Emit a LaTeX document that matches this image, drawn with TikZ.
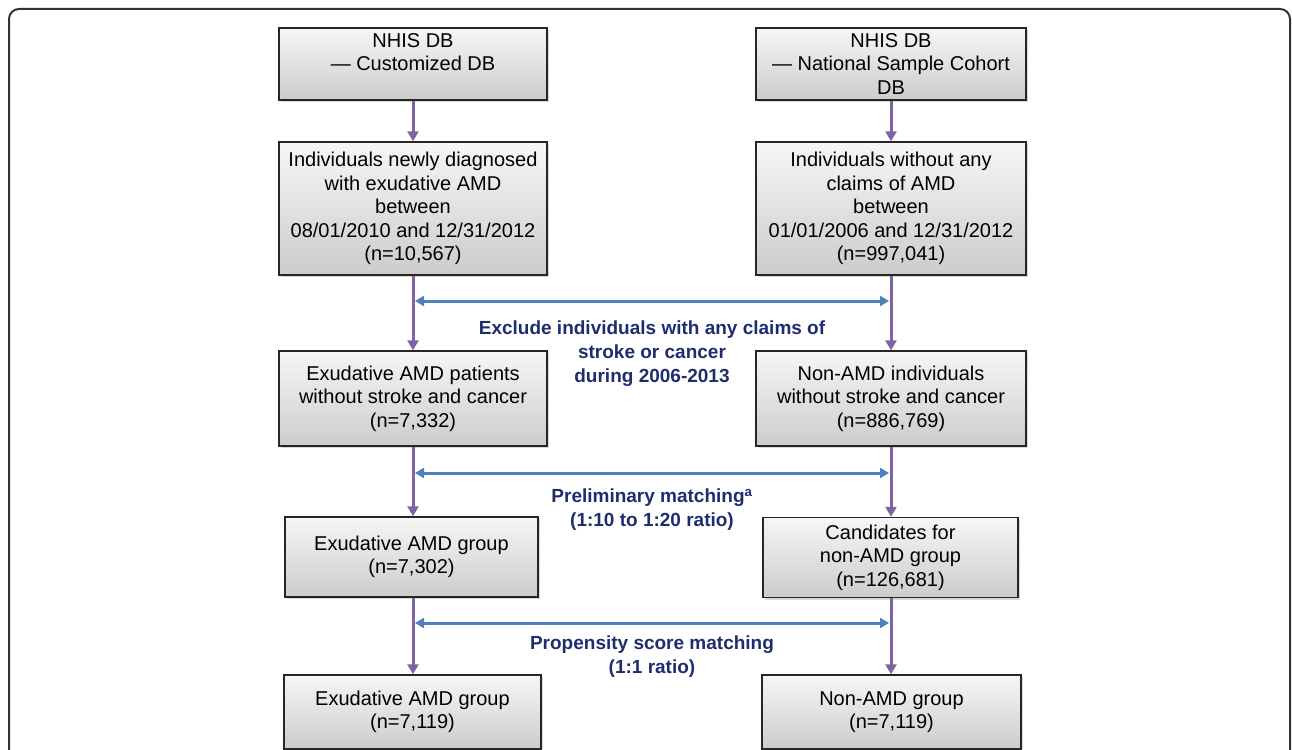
\documentclass[tikz,border=0pt]{standalone}
\usepackage{fontspec}
\setmainfont{Liberation Sans}
\usetikzlibrary{arrows.meta,shadows}

\definecolor{flowpurple}{RGB}{128,100,162}
\definecolor{flowblue}{RGB}{79,129,189}
\definecolor{labelnavy}{RGB}{31,45,110}

\begin{document}
\begin{tikzpicture}[x=1pt,y=-1pt,
  box/.style={draw=black!85, line width=1.4pt, top color=gray!7, bottom color=gray!40,
    drop shadow={opacity=0.3,shadow xshift=2pt,shadow yshift=-2pt},
    align=center, inner sep=0pt, font=\fontsize{20}{23.5}\selectfont},
  flow/.style={draw=flowpurple, line width=3pt, -{Triangle[length=10pt,width=11pt]}},
  match/.style={draw=flowblue, line width=3pt, {Triangle[length=9pt,width=10pt]}-{Triangle[length=9pt,width=10pt]}},
  note/.style={text=labelnavy, align=center, font=\fontsize{19}{24}\selectfont\bfseries}]
\useasboundingbox (0,0) rectangle (1292,749);
% outer frame
\draw [black!80, line width=2pt, rounded corners=10pt] (9,760) -- (9,9) -- (1290,9) -- (1290,760);
% left column
\node [box, minimum width=268pt, minimum height=72pt] (db1) at (413,64) {NHIS DB\\ --- Customized DB\\ ~};
\node [box, minimum width=268pt, minimum height=133pt] (amd1) at (413,208.5) {Individuals newly diagnosed\\with exudative AMD\\between\\08/01/2010 and 12/31/2012\\(n=10,567)};
\node [box, minimum width=268pt, minimum height=95pt] (amd2) at (413,398.5) {Exudative AMD patients\\without stroke and cancer\\(n=7,332)};
\node [box, minimum width=253pt, minimum height=80pt] (amd3) at (411.5,557) {Exudative AMD group\\(n=7,302)};
\node [box, minimum width=257pt, minimum height=74pt] (amd4) at (412.5,712) {Exudative AMD group\\(n=7,119)};
% right column
\node [box, minimum width=270pt, minimum height=72pt] (db2) at (891,64) {NHIS DB\\ --- National Sample Cohort\\DB};
\node [box, minimum width=270pt, minimum height=133pt] (non1) at (891,208.5) {Individuals without any\\claims of AMD\\between\\01/01/2006 and 12/31/2012\\(n=997,041)};
\node [box, minimum width=270pt, minimum height=95pt] (non2) at (891,398.5) {Non-AMD individuals\\without stroke and cancer\\(n=886,769)};
\node [box, minimum width=255pt, minimum height=80pt] (non3) at (890.5,557.5) {Candidates for\\non-AMD group\\(n=126,681)};
\node [box, minimum width=259pt, minimum height=74pt] (non4) at (891.5,712) {Non-AMD group\\(n=7,119)};
% vertical arrows
\draw [flow] (db1.south -| 413,0) -- (amd1.north -| 413,0);
\draw [flow] (amd1.south -| 413,0) -- (amd2.north -| 413,0);
\draw [flow] (amd2.south -| 413,0) -- (amd3.north -| 413,0);
\draw [flow] (amd3.south -| 413,0) -- (amd4.north -| 413,0);
\draw [flow] (db2.south -| 891,0) -- (non1.north -| 891,0);
\draw [flow] (non1.south -| 891,0) -- (non2.north -| 891,0);
\draw [flow] (non2.south -| 891,0) -- (non3.north -| 891,0);
\draw [flow] (non3.south -| 891,0) -- (non4.north -| 891,0);
% matching steps
\coordinate (exl) at (415,301);
\coordinate (exr) at (889,301);
\coordinate (prl) at (415,473);
\coordinate (prr) at (889,473);
\coordinate (psl) at (415,623);
\coordinate (psr) at (889,623);
\draw [match] (exl) -- (exr);
\draw [match] (prl) -- (prr);
\draw [match] (psl) -- (psr);
\node [note] (exclude) at (652,354) {Exclude individuals with any claims of\\stroke or cancer\\during 2006-2013};
\node [note] (prelim) at (652,510) {Preliminary matching\textsuperscript{a}\\(1:10 to 1:20 ratio)};
\node [note] (propensity) at (652,657) {Propensity score matching\\(1:1 ratio)};
\end{tikzpicture}
\end{document}
